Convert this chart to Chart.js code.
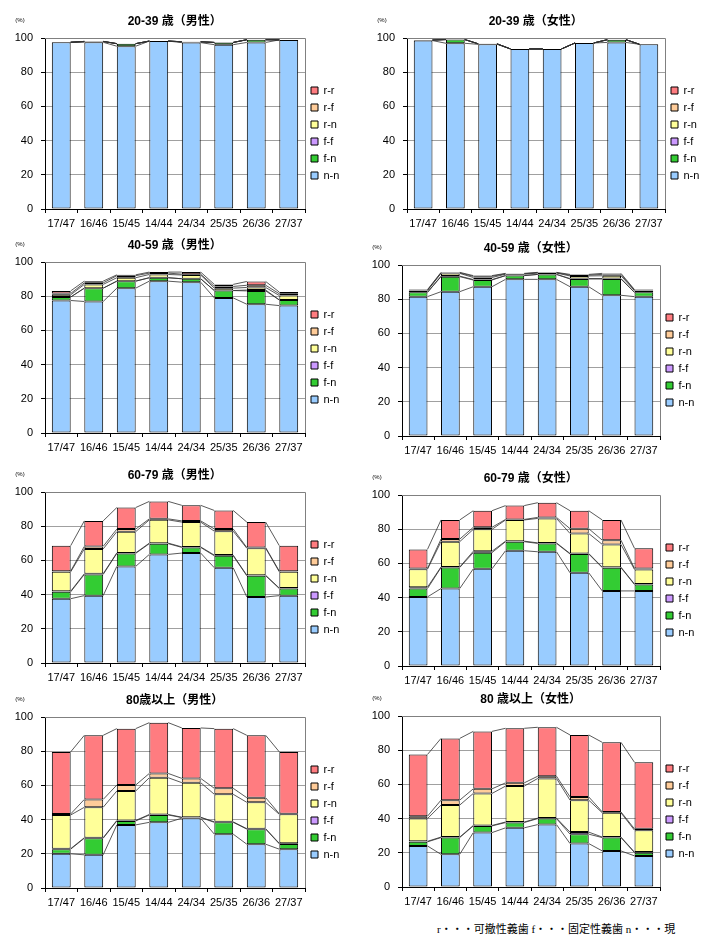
<!DOCTYPE html>
<html><head><meta charset="utf-8">
<script src="https://cdn.jsdelivr.net/npm/chart.js@4"></script>
<style>
body{margin:0;background:#fff;width:704px;height:939px;position:relative;overflow:hidden}
.p{position:absolute;width:352px;height:230px}
#foot{position:absolute;left:437px;top:920px;font:11px "Liberation Serif","Noto Sans CJK JP",serif;white-space:nowrap;color:#000}
</style></head><body>
<div class="p" style="left:0px;top:0px"><canvas id="c1" width="352" height="230"></canvas></div>
<div class="p" style="left:362px;top:0px"><canvas id="c2" width="352" height="230"></canvas></div>
<div class="p" style="left:0px;top:224px"><canvas id="c3" width="352" height="230"></canvas></div>
<div class="p" style="left:357px;top:227px"><canvas id="c4" width="352" height="230"></canvas></div>
<div class="p" style="left:0px;top:454px"><canvas id="c5" width="352" height="230"></canvas></div>
<div class="p" style="left:357px;top:457px"><canvas id="c6" width="352" height="230"></canvas></div>
<div class="p" style="left:0px;top:679px"><canvas id="c7" width="352" height="230"></canvas></div>
<div class="p" style="left:357px;top:678px"><canvas id="c8" width="352" height="230"></canvas></div>
<div id="foot">r・・・可撤性義歯&nbsp;f・・・固定性義歯&nbsp;n・・・現</div>
<script>
const categories = ['17/47','16/46','15/45','14/44','24/34','25/35','26/36','27/37'];
const seriesNames = ['n-n','f-n','f-f','r-n','r-f','r-r'];
const titles = ['20-39 歳（男性）','20-39 歳（女性）','40-59 歳（男性）','40-59 歳（女性）','60-79 歳（男性）','60-79 歳（女性）','80歳以上（男性）','80 歳以上（女性）'];

// 20-39 male
const m20_nn = [97.5, 97.5, 95.2, 98.2, 97.3, 96.1, 97.4, 98.9];
const m20_fn = [0, 0.5, 1.5, 0, 0.5, 1.3, 1.6, 0];
const m20_ff = [0, 0, 0, 0, 0, 0, 0, 0];
const m20_rn = [0, 0, 0, 0, 0, 0, 0, 0];
const m20_rf = [0, 0, 0, 0, 0, 0, 0, 0];
const m20_rr = [0, 0, 0, 0, 0, 0, 0, 0];
// 20-39 female
const f20_nn = [98.5, 96.9, 96.3, 93.6, 93.6, 97.1, 97.4, 96.3];
const f20_fn = [0.3, 2.2, 0.3, 0, 0, 0, 1.6, 0];
const f20_ff = [0, 0, 0, 0, 0, 0, 0, 0];
const f20_rn = [0, 0, 0, 0, 0, 0, 0, 0];
const f20_rf = [0, 0, 0, 0, 0, 0, 0, 0];
const f20_rr = [0, 0, 0, 0, 0, 0, 0, 0];
// 40-59 male
const m40_nn = [77.5, 76.9, 84.7, 88.8, 88.2, 79.0, 75.3, 74.5];
const m40_fn = [2.0, 7.8, 4.1, 2.0, 2.0, 4.3, 7.8, 3.3];
const m40_ff = [0, 0, 0, 0, 0, 0, 0.5, 0];
const m40_rn = [1.3, 2.2, 2.0, 1.9, 2.2, 1.4, 1.5, 2.6];
const m40_rf = [0.8, 0.9, 1.2, 0.8, 0.5, 1.0, 1.3, 1.0];
const m40_rr = [1.5, 1.0, 0.5, 0.6, 1.2, 1.2, 2.2, 1.0];
// 40-59 female
const f40_nn = [81.5, 84.4, 87.3, 91.6, 91.6, 87.3, 82.3, 81.5];
const f40_fn = [2.5, 8.8, 3.9, 2.2, 2.9, 4.5, 9.5, 2.5];
const f40_ff = [0, 0.3, 0.3, 0, 0, 0.3, 0.3, 0];
const f40_rn = [1.0, 1.6, 1.2, 0.8, 0.8, 1.5, 1.6, 1.0];
const f40_rf = [0.3, 0.3, 0.7, 0.3, 0.2, 0.5, 0.8, 0.3];
const f40_rr = [0.3, 0.3, 0.4, 0.2, 0.2, 0.4, 0.6, 0.3];
// 60-79 male
const m60_nn = [37.6, 39.4, 56.5, 63.5, 64.3, 55.7, 38.6, 39.4];
const m60_fn = [4.0, 12.4, 7.6, 6.3, 3.3, 7.0, 12.4, 4.1];
const m60_ff = [0.4, 0.4, 0.3, 0.3, 0.3, 0.4, 0.3, 0.3];
const m60_rn = [11.3, 14.5, 12.4, 13.6, 14.5, 14.0, 15.8, 9.5];
const m60_rf = [0.4, 1.5, 1.5, 0.6, 0.7, 1.3, 0.4, 0.4];
const m60_rr = [14.9, 14.9, 12.6, 10.2, 9.1, 10.8, 14.9, 14.9];
// 60-79 female
const f60_nn = [40.4, 45.3, 56.8, 67.4, 66.8, 54.5, 43.9, 43.9];
const f60_fn = [4.9, 12.3, 9.5, 5.3, 4.9, 11.0, 13.6, 3.7];
const f60_ff = [0.8, 0.3, 0.8, 0.3, 0.3, 0.3, 0.3, 0.3];
const f60_rn = [10.5, 14.8, 12.8, 12.4, 14.3, 11.7, 13.3, 8.5];
const f60_rf = [0.4, 1.5, 1.2, 0.3, 0.6, 2.8, 2.5, 0.6];
const f60_rr = [11.2, 11.2, 9.7, 8.1, 8.6, 10.5, 11.8, 11.8];
// 80+ male
const m80_nn = [20.0, 19.4, 36.9, 38.4, 40.8, 31.5, 25.6, 22.7];
const m80_fn = [2.7, 9.7, 2.3, 4.3, 0.4, 6.9, 8.8, 3.1];
const m80_ff = [0.3, 0.3, 0.3, 0.3, 0.2, 0.3, 0.3, 0.3];
const m80_rn = [19.7, 17.8, 17.2, 21.5, 20.2, 16.1, 15.4, 17.0];
const m80_rf = [0.6, 4.6, 3.5, 2.5, 2.5, 3.5, 2.7, 0.3];
const m80_rr = [36.3, 37.5, 33.0, 29.7, 29.5, 34.9, 36.5, 36.2];
// 80+ female
const f80_nn = [24.0, 19.1, 31.8, 34.6, 36.5, 25.4, 21.1, 18.2];
const f80_fn = [2.4, 9.8, 3.9, 3.1, 3.5, 5.5, 7.8, 1.9];
const f80_ff = [0.3, 0.3, 0.3, 0.3, 0.3, 1.2, 0.3, 0.3];
const f80_rn = [13.3, 18.7, 18.7, 21.0, 23.2, 18.7, 14.2, 12.8];
const f80_rf = [1.4, 2.9, 2.7, 1.9, 1.3, 1.9, 0.5, 0.8];
const f80_rr = [36.1, 36.1, 33.6, 31.9, 28.6, 36.2, 40.7, 38.9];

const yTicks = [0, 20, 40, 60, 80, 100];
const colors = ['#99CCFF','#33CC33','#CC99FF','#FFFF99','#FFCC99','#FF7C80'];

const panelSeries = [
  [m20_nn,m20_fn,m20_ff,m20_rn,m20_rf,m20_rr],
  [f20_nn,f20_fn,f20_ff,f20_rn,f20_rf,f20_rr],
  [m40_nn,m40_fn,m40_ff,m40_rn,m40_rf,m40_rr],
  [f40_nn,f40_fn,f40_ff,f40_rn,f40_rf,f40_rr],
  [m60_nn,m60_fn,m60_ff,m60_rn,m60_rf,m60_rr],
  [f60_nn,f60_fn,f60_ff,f60_rn,f60_rf,f60_rr],
  [m80_nn,m80_fn,m80_ff,m80_rn,m80_rf,m80_rr],
  [f80_nn,f80_fn,f80_ff,f80_rn,f80_rf,f80_rr]
];
const targetRight = [305,303,305,303,305,303,305,303];

Chart.defaults.font.family = '"Liberation Sans","Noto Sans CJK JP",Arial,sans-serif';
Chart.defaults.color = '#000';

const seriesLines = {
  id:'seriesLines',
  afterDatasetsDraw(chart){
    const ctx = chart.ctx;
    ctx.save();
    ctx.strokeStyle = '#303030'; ctx.lineWidth = 0.8;
    chart.data.datasets.forEach((ds,k)=>{
      const els = chart.getDatasetMeta(k).data;
      for(let i=0;i<els.length-1;i++){
        const a=els[i], b=els[i+1];
        ctx.beginPath();
        ctx.moveTo(a.x + a.width/2, a.y);
        ctx.lineTo(b.x - b.width/2, b.y);
        ctx.stroke();
      }
    });
    ctx.restore();
  }
};
const frame = {
  id:'frame',
  beforeDatasetsDraw(chart){
    const {ctx, chartArea:a} = chart;
    ctx.save();
    ctx.strokeStyle = '#808080'; ctx.lineWidth = 1;
    ctx.beginPath();
    ctx.moveTo(a.left, a.top+0.5); ctx.lineTo(a.right+0.5, a.top+0.5); ctx.lineTo(a.right+0.5, a.bottom);
    ctx.stroke();
    ctx.restore();
  },
  afterDraw(chart){
    const {ctx, chartArea:a} = chart;
    ctx.save();
    ctx.fillStyle = '#000';
    ctx.font = '6px "Liberation Sans"';
    ctx.textAlign = 'center';
    ctx.fillText('(%)', a.left - 25, a.top - 16);
    ctx.restore();
  }
};

panelSeries.forEach((series, p)=>{
  const ctx = document.getElementById('c'+(p+1));
  const chart = new Chart(ctx, {
    type:'bar',
    data:{
      labels: categories,
      datasets: series.map((vals,k)=>({
        label: seriesNames[k], data: vals,
        backgroundColor: colors[k], borderColor:'#000', borderWidth:1, borderSkipped:false,
        barPercentage:0.58, categoryPercentage:1
      }))
    },
    options:{
      responsive:false, animation:false,
      layout:{padding:{left:0,right:0,top:0,bottom:0}},
      plugins:{
        title:{display:true, text:titles[p], color:'#000', font:{size:12, weight:'bold'}, padding:{top:14,bottom:9.6}},
        legend:{position:'right', reverse:true, align:'center',
          title:{display:true, text:' ', font:{size:10}, padding:12},
          labels:{boxWidth:7, boxHeight:7, padding:6, color:'#000', font:{size:11}}},
        tooltip:{enabled:false}
      },
      scales:{
        x:{stacked:true,
          grid:{offset:true, drawOnChartArea:false, tickLength:4, tickColor:'#000'},
          border:{color:'#000', width:1},
          ticks:{padding:4, font:{size:11}, color:'#000', maxRotation:0, autoSkip:false},
          afterFit(s){ s.height = 21; }
        },
        y:{stacked:true, min:yTicks[0], max:yTicks[yTicks.length-1],
          afterBuildTicks(s){ s.ticks = yTicks.map(v=>({value:v})); },
          grid:{color:'#a0a0a0', tickColor:'#000', tickLength:4},
          border:{color:'#000', width:1},
          ticks:{padding:8, font:{size:11}, color:'#000'},
          afterFit(s){ s.width = 45; }
        }
      }
    },
    plugins:[frame, seriesLines]
  });
  const diff = chart.chartArea.right - targetRight[p];
  if (Math.abs(diff) > 0.2) {
    chart.options.layout.padding.right = Math.max(0, diff);
    chart.update();
  }
});
</script>
</body></html>
